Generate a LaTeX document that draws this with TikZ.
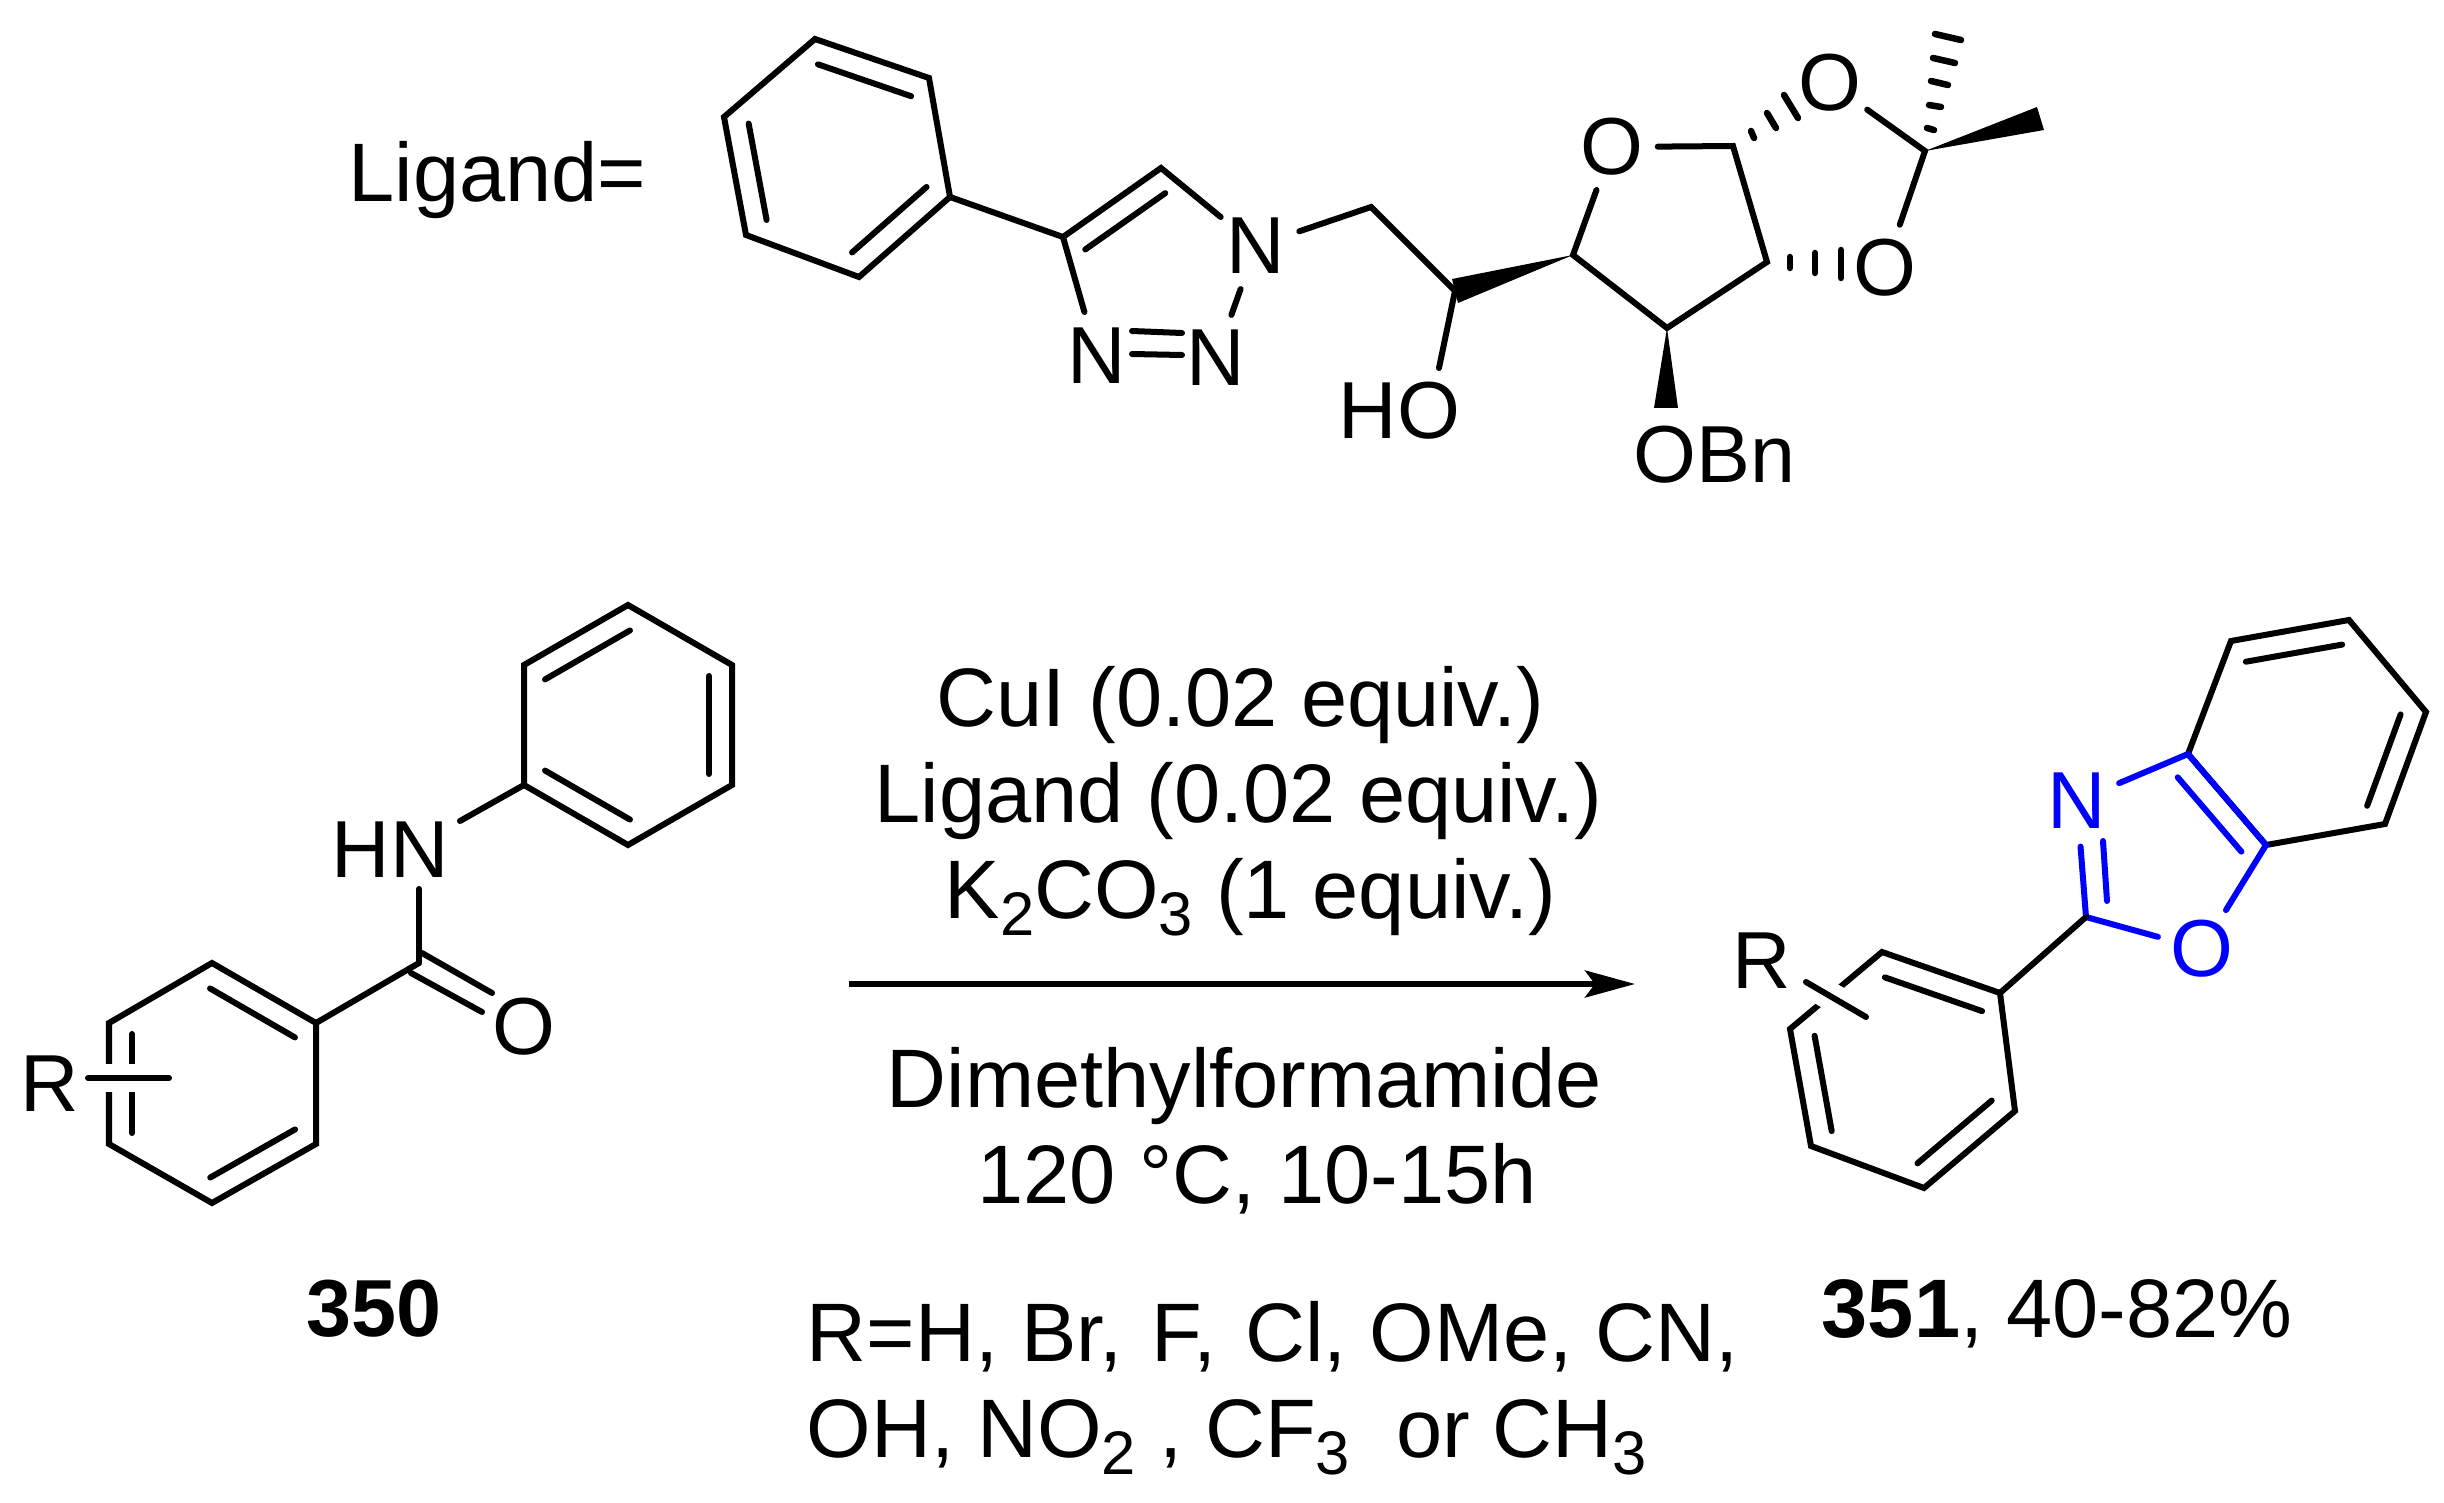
\documentclass[tikz,border=0pt]{standalone}
\usepackage{fontspec}
\setmainfont{Liberation Sans}
\usetikzlibrary{arrows.meta,calc}

\newcommand{\chemsize}{\fontsize{23}{27}\selectfont}
\newcommand{\condsize}{\fontsize{23.6}{27}\selectfont}
\newcommand{\subs}[1]{\raisebox{-0.17cm}{\fontsize{17.5}{20}\selectfont #1}}
\newcommand{\innerbond}[2]{\draw[bond,shorten >=0.11cm,shorten <=0.11cm] ($(#1)!0.23cm!-90:(#2)$) -- ($(#2)!0.23cm!90:(#1)$);}

\tikzset{
  bond/.style={line width=0.06cm,line cap=round},
  hashbar/.style={line width=0.065cm,line cap=round},
  atom/.style={circle,inner sep=0pt,minimum size=0.9cm,font=\chemsize},
  txt/.style={inner sep=0pt,anchor=base west,font=\chemsize},
  cond/.style={txt,font=\condsize},
}

\begin{document}
\begin{tikzpicture}[x=0.01cm,y=-0.01cm]
\useasboundingbox (0,0) rectangle (2444,1503);

% ligand
\node[cond] (ligand) at (348,202) {Ligand=};
\coordinate (a1) at (815,39);
\coordinate (a2) at (929,78);
\coordinate (a3) at (950,197);
\coordinate (a4) at (859,277);
\coordinate (a5) at (746,235);
\coordinate (a6) at (724,117);
\draw[bond] (a1) -- (a2) -- (a3) -- (a4) -- (a5) -- (a6) -- cycle;
\innerbond{a1}{a2}
\innerbond{a3}{a4}
\innerbond{a5}{a6}
\coordinate (tc4) at (1063,237);
\coordinate (tc5) at (1161,168);
\node[atom] (tn1) at (1256,246) {N};
\node[atom] (tn2) at (1216,358) {N};
\node[atom] (tn3) at (1097,356) {N};
\draw[bond] (a3) -- (tc4) -- (tc5) -- (tn1) -- (tn2);
\draw[bond] (tc4) -- (tn3);
\innerbond{tc4}{tc5}
\coordinate (nn1) at (1132,331);
\coordinate (nn2) at (1182,333);
\coordinate (nn3) at (1132,354);
\coordinate (nn4) at (1182,355);
\draw[bond] (nn1) -- (nn2);
\draw[bond] (nn3) -- (nn4);
\coordinate (ch2) at (1371,207);
\coordinate (choh) at (1455,291);
\coordinate (hoend) at (1439,368);
\draw[bond] (tn1) -- (ch2) -- (choh) -- (hoend);
\node[txt] (ho) at (1338,439) {HO};

% sugar
\node[atom] (oring) at (1612,147) {O};
\coordinate (s1) at (1733,146);
\coordinate (s2) at (1767,262);
\coordinate (s3) at (1667,328);
\coordinate (s4) at (1573,255);
\draw[bond] (oring) -- (s1) -- (s2) -- (s3) -- (s4) -- (oring);
\coordinate (w1) at (1452,279);
\coordinate (w2) at (1458,303);
\fill (s4) -- (w1) -- (w2) -- cycle;
\coordinate (w3) at (1654,408);
\coordinate (w4) at (1678,408);
\fill (s3) -- (w3) -- (w4) -- cycle;
\node[txt] (obn) at (1633,482) {OBn};
\node[atom] (oup) at (1830,83) {O};
\node[atom] (olow) at (1885,268) {O};
\coordinate (cme) at (1925,151);
\draw[bond] (oup) -- (cme) -- (olow);
\coordinate (w5) at (2037,107);
\coordinate (w6) at (2044,130);
\fill (cme) -- (w5) -- (w6) -- cycle;
\foreach \xa/\ya/\xb/\yb in {1751/131/1754/138,1767/113/1776/128,1784/95/1798/118,1790/257/1790/268,1815/253/1815/273,1841/250/1841/278,1927/128/1934/130,1929/105/1941/107,1931/81/1948/85,1933/58/1955/63,1935/34/1961/40} {
  \draw[hashbar] (\xa,\ya) -- (\xb,\yb);
}

% 350
\coordinate (r1) at (212,963);
\coordinate (r2) at (316,1023);
\coordinate (r3) at (316,1144);
\coordinate (r4) at (212,1203);
\coordinate (r5) at (109,1144);
\coordinate (r6) at (109,1023);
\draw[bond] (r1) -- (r2) -- (r3) -- (r4) -- (r5) -- (r6) -- cycle;
\innerbond{r1}{r2}
\innerbond{r3}{r4}
\innerbond{r5}{r6}
\coordinate (ra) at (88,1078);
\coordinate (rb) at (169,1078);
\draw[bond,preaction={draw,white,line width=0.28cm,line cap=butt}] (ra) -- (rb);
\node[txt] (rleft) at (20,1111) {R};
\coordinate (co) at (419,963);
\draw[bond] (r2) -- (co);
\coordinate (co1) at (422,953);
\coordinate (co2) at (492,993);
\coordinate (co3) at (411,973);
\coordinate (co4) at (482,1012);
\draw[bond] (co1) -- (co2);
\draw[bond] (co3) -- (co4);
\node[atom] (oamide) at (524,1027) {O};
\coordinate (hn1) at (419,889);
\draw[bond] (co) -- (hn1);
\node[txt] (hn) at (331,877) {HN};
\coordinate (q1) at (628,605);
\coordinate (q2) at (732,665);
\coordinate (q3) at (732,785);
\coordinate (q4) at (628,845);
\coordinate (q5) at (524,785);
\coordinate (q6) at (524,665);
\draw[bond] (q1) -- (q2) -- (q3) -- (q4) -- (q5) -- (q6) -- cycle;
\innerbond{q2}{q3}
\innerbond{q4}{q5}
\innerbond{q6}{q1}
\coordinate (hn2) at (460,821);
\draw[bond] (q5) -- (hn2);
\node[txt,anchor=base] (n350) at (374,1336) {\textbf{350}};

% conditions
\node[cond] (cui) at (936,726) {CuI (0.02 equiv.)};
\node[cond] (lig) at (874,822) {Ligand (0.02 equiv.)};
\node[cond] (base) at (944,918) {K\subs{2}CO\subs{3} (1 equiv.)};
\coordinate (astart) at (849,984);
\coordinate (aend) at (1635,984);
\draw[line width=0.06cm,-{Stealth[length=0.5cm,width=0.27cm,inset=0.1cm]}] (astart) -- (aend);
\node[cond] (dmf) at (886,1107) {Dimethylformamide};
\node[cond] (temp) at (977,1203) {120 °C, 10-15h};
\node[cond] (rlist) at (806,1361) {R=H, Br,\kern 0.06cm\ F,\kern 0.06cm\ Cl, OMe, CN,};
\node[cond] (rlistb) at (806,1457) {OH, NO\subs{2} , CF\subs{3}\ \ or CH\subs{3}};

% 351
\coordinate (b1) at (2231,641);
\coordinate (b2) at (2349,620);
\coordinate (b3) at (2426,712);
\coordinate (b4) at (2385,824);
\coordinate (b5) at (2266,845);
\coordinate (b6) at (2188,754);
\draw[bond] (b1) -- (b2) -- (b3) -- (b4) -- (b5) -- (b6) -- cycle;
\innerbond{b1}{b2}
\innerbond{b3}{b4}
\node[atom,text=blue] (nox) at (2077,801) {N};
\node[atom,text=blue] (oox) at (2202,949) {O};
\coordinate (c2) at (2086,917);
\draw[bond,blue] (b6) -- (b5) -- (oox) -- (c2) -- (nox) -- (b6);
\begin{scope}[blue]
\innerbond{b6}{b5}
\end{scope}
\coordinate (nc1) at (2103,841);
\coordinate (nc2) at (2107,901);
\draw[bond,blue] (nc1) -- (nc2);
\coordinate (p1) at (2000,993);
\coordinate (p2) at (2015,1111);
\coordinate (p3) at (1924,1188);
\coordinate (p4) at (1811,1146);
\coordinate (p5) at (1790,1029);
\coordinate (p6) at (1882,952);
\draw[bond] (c2) -- (p1);
\draw[bond] (p1) -- (p2) -- (p3) -- (p4) -- (p5) -- (p6) -- cycle;
\innerbond{p6}{p1}
\innerbond{p2}{p3}
\innerbond{p4}{p5}
\coordinate (rc) at (1806,982);
\coordinate (rd) at (1866,1017);
\draw[bond,preaction={draw,white,line width=0.28cm,line cap=butt}] (rc) -- (rd);
\node[txt] (rright) at (1732,988) {R};
\node[cond] (n351) at (1821,1337) {\textbf{351}, 40-82\%};
\end{tikzpicture}
\end{document}
